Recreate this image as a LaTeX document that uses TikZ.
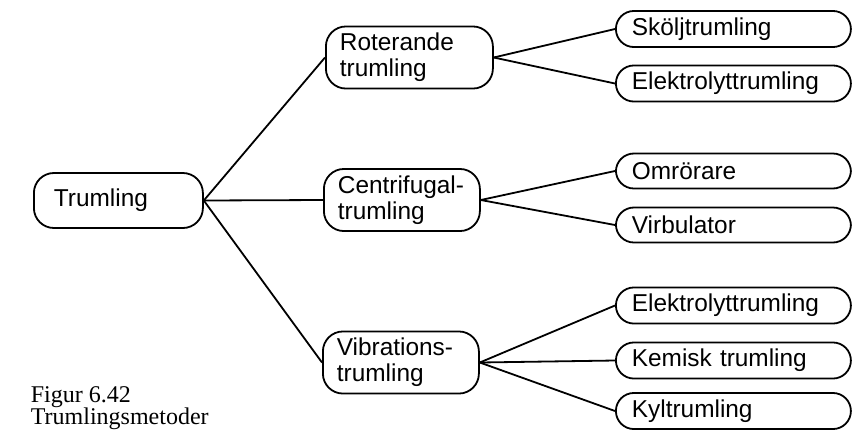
\documentclass[tikz,border=0pt]{standalone}
\usepackage{fontspec}
\setmainfont{Liberation Sans}
\newfontfamily\capfont{Liberation Serif}

\begin{document}
\begin{tikzpicture}[x=0.5pt,y=-0.5pt,line width=0.9pt]
        \tikzstyle{every node}=[font=\fontsize{12.2}{13}\selectfont]
        \tikzset{
            root/.style={draw, rounded corners=10pt, anchor=west, align=left, inner xsep=10pt, text width=64.5pt, minimum height=27.5pt},
            mid/.style={draw, rounded corners=10pt, anchor=west, align=left, inner xsep=7pt, text width=#1, minimum height=29pt},
            leaf/.style={draw, rounded corners=9pt, anchor=west, align=left, inner xsep=8pt, text width=101.5pt, minimum height=17.5pt},
            caption/.style={anchor=base west, inner sep=0pt, font=\capfont\fontsize{12}{14}\selectfont}
        }
        \clip (0,0) rectangle (862,430);
        % huvudgren
        \node [root] (trum) at (33,200.5) {Trumling};
        \node [mid=69.5pt] (rot) at (325,57.5) {Roterande\\trumling};
        \node [mid=64pt] (cen) at (323,200) {Centrifugal-\\trumling};
        \node [mid=64pt] (vib) at (322,362.5) {Vibrations-\\trumling};
        \draw (trum.east) -- (rot.west);
        \draw (trum.east) -- (cen.west);
        \draw (trum.east) -- (vib.west);
        % roterande
        \node [leaf] (skolj) at (615,29) {Sköljtrumling};
        \node [leaf] (elek1) at (615,83.5) {Elektrolyttrumling};
        \draw (rot.east) -- (skolj.west);
        \draw (rot.east) -- (elek1.west);
        % centrifugal
        \node [leaf] (omr) at (615,171) {Omrörare};
        \node [leaf] (virb) at (615,225) {Virbulator};
        \draw (cen.east) -- (omr.west);
        \draw (cen.east) -- (virb.west);
        % vibrations
        \node [leaf] (elek2) at (615,305.5) {Elektrolyttrumling};
        \node [leaf] (kem) at (615,360.5) {Kemisk trumling};
        \node [leaf] (kyl) at (615,411) {Kyltrumling};
        \draw (vib.east) -- (elek2.west);
        \draw (vib.east) -- (kem.west);
        \draw (vib.east) -- (kyl.west);
        % figurtext
        \node [caption] (fig) at (30,402) {Figur 6.42};
        \node [caption] (figtext) at (30,424) {Trumlingsmetoder};
    \end{tikzpicture}
\end{document}
